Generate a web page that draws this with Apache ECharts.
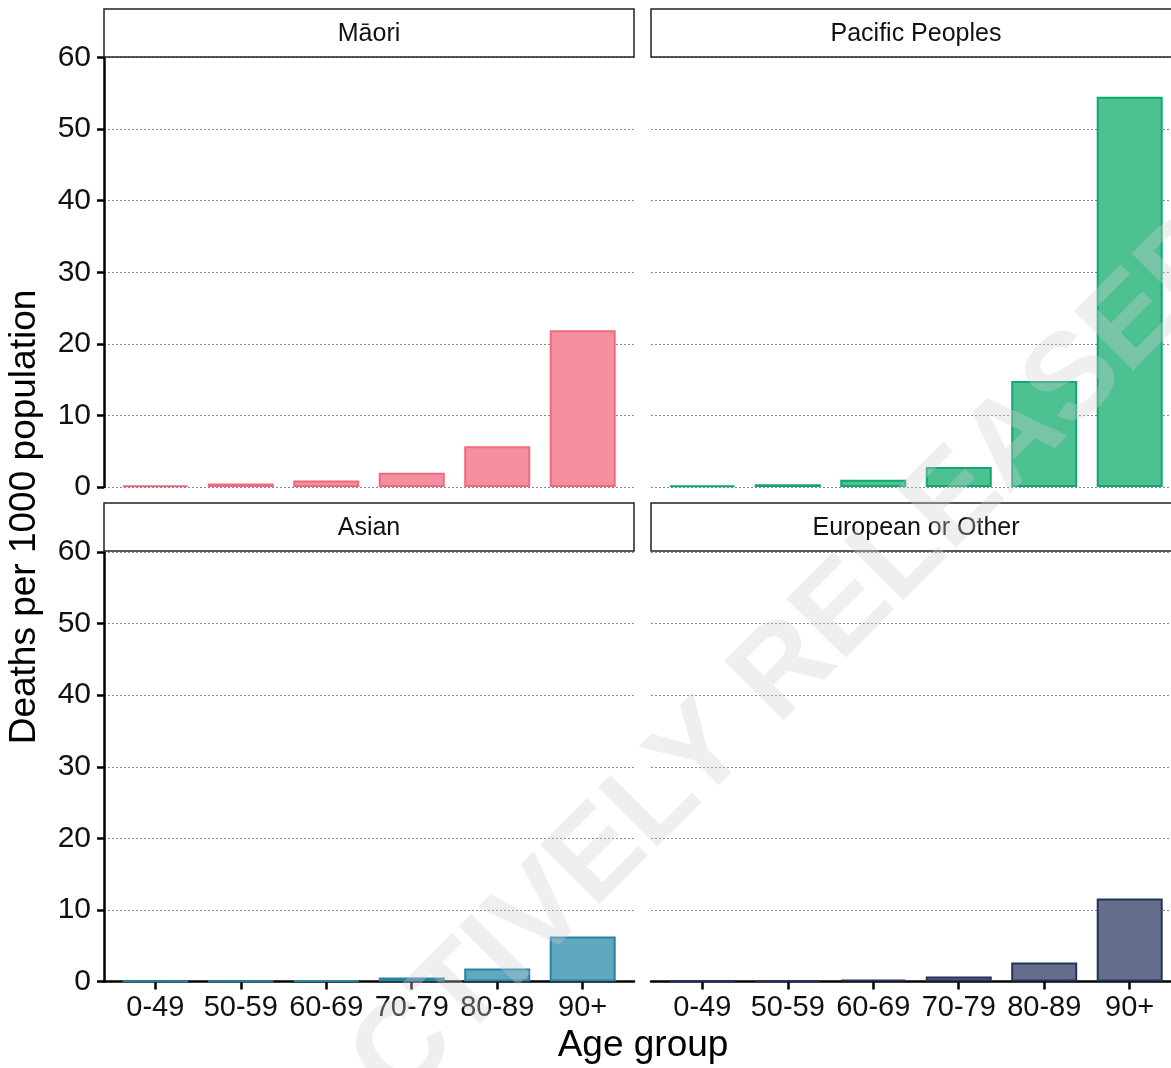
<!DOCTYPE html>
<html>
<head>
<meta charset="utf-8">
<script src="https://cdn.jsdelivr.net/npm/echarts@6/dist/echarts.min.js"></script>
<style>
html,body{margin:0;padding:0;background:#fff;overflow:hidden;}
#chart{width:1171px;height:1068px;}
</style>
</head>
<body>
<div id="chart"></div>
<script>
const ageGroups = ['0-49', '50-59', '60-69', '70-79', '80-89', '90+'];
const panelTitles = ['Māori', 'Pacific Peoples', 'Asian', 'European or Other'];
const maori = [0.2, 0.5, 0.9, 2.0, 5.7, 21.9];
const pacific = [0.2, 0.4, 1.0, 2.8, 14.8, 54.5];
const asian = [0.05, 0.08, 0.15, 0.55, 1.8, 6.3];
const european = [0.05, 0.1, 0.25, 0.7, 2.65, 11.6];
const yTicks = [0, 10, 20, 30, 40, 50, 60];
const xLabel = 'Age group';
const yLabel = 'Deaths per 1000 population';
const watermark = 'PROACTIVELY RELEASED';

const seriesValues = [maori, pacific, asian, european];
const fills = ['#f590a0', '#4dc192', '#5fa8c0', '#636e8c'];
const borders = ['#f06a7f', '#0ea870', '#2b83a3', '#26325e'];
const FONT = '"Liberation Sans", Arial, Helvetica, sans-serif';

const lefts = [104, 651, 104, 651];
const tops = [57.5, 57.5, 552, 552];
const W = 530, H = 429.5;
const XMIN = -0.6, XMAX = 5.6;
const unitPx = W / (XMAX - XMIN);
const CANVAS_W = 1171;

const grids = [], xAxes = [], yAxes = [], series = [], graphics = [];
for (let i = 0; i < 4; i++) {
  const isLeft = i % 2 === 0, isBottom = i >= 2;
  const gw = Math.min(W, CANVAS_W - lefts[i]);
  const xmax = XMIN + gw / unitPx;
  grids.push({left: lefts[i], top: tops[i], width: gw, height: H, containLabel: false});
  xAxes.push({
    type: 'value', gridIndex: i, min: XMIN, max: xmax,
    splitLine: {show: false},
    axisLine: {show: isBottom, onZero: false, lineStyle: {color: '#000', width: 2.5}},
    axisTick: {show: isBottom, length: 8, lineStyle: {color: '#000', width: 2.5}, customValues: [0, 1, 2, 3, 4, 5]},
    axisLabel: {show: isBottom, customValues: [0, 1, 2, 3, 4, 5], formatter: v => ageGroups[Math.round(v)],
      color: '#111', fontSize: 29, fontFamily: FONT, margin: 12}
  });
  yAxes.push({
    type: 'value', gridIndex: i, min: yTicks[0], max: yTicks[yTicks.length - 1], interval: 10,
    splitLine: {show: true, lineStyle: {color: '#8a8a8a', width: 1, type: [2, 2]}},
    axisLine: {show: isLeft, onZero: false, lineStyle: {color: '#000', width: 2.5}},
    axisTick: {show: isLeft, length: 7, lineStyle: {color: '#000', width: 2.5}},
    axisLabel: {show: isLeft, color: '#111', fontSize: 30, fontFamily: FONT, margin: 13}
  });
  series.push({
    type: 'bar', xAxisIndex: i, yAxisIndex: i, barWidth: 66,
    data: seriesValues[i].map((v, k) => [k, v]),
    itemStyle: {color: fills[i], borderColor: borders[i], borderWidth: 2},
    z: 3
  });
  const sy = isBottom ? 503 : 9;
  graphics.push({
    type: 'rect', shape: {x: lefts[i], y: sy, width: W, height: 48},
    style: {fill: '#fff', stroke: '#222', lineWidth: 1.5}, z: 5
  });
  graphics.push({
    type: 'text', x: lefts[i] + W / 2, y: sy + 25,
    style: {text: panelTitles[i], fontSize: 25, fontFamily: FONT, fill: '#111', align: 'center', verticalAlign: 'middle'}, z: 6
  });
}
graphics.push({
  type: 'text', x: 643, y: 1046,
  style: {text: xLabel, fontSize: 37, fontFamily: FONT, fill: '#000', align: 'center', verticalAlign: 'middle'}
});
graphics.push({
  type: 'text', x: 25, y: 517, rotation: Math.PI / 2,
  style: {text: yLabel, fontSize: 37, fontFamily: FONT, fill: '#000', align: 'center', verticalAlign: 'middle'}
});
graphics.push({
  type: 'text', x: 674, y: 782, rotation: Math.PI / 4, z: 100,
  style: {text: watermark, fontSize: 122, fontWeight: 'bold', fontFamily: FONT, fill: 'rgba(205,205,205,0.33)', align: 'center', verticalAlign: 'middle'}
});

const chart = echarts.init(document.getElementById('chart'), null, {renderer: 'canvas'});
chart.setOption({
  backgroundColor: '#fff',
  animation: false,
  grid: grids, xAxis: xAxes, yAxis: yAxes, series: series,
  graphic: graphics
});
</script>
</body>
</html>
